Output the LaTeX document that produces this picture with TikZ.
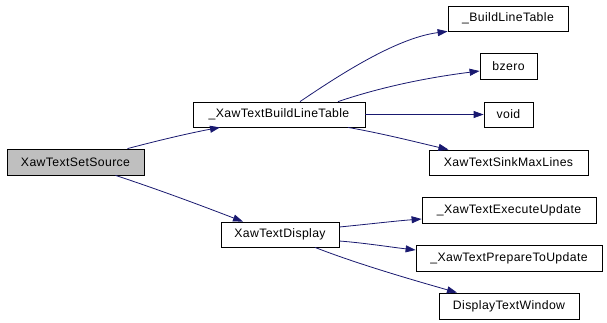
\documentclass[tikz,border=0pt]{standalone}
\usepackage{fontspec}
\setmainfont{Liberation Sans}[LetterSpace=3]
\usetikzlibrary{arrows.meta}
\definecolor{edgeblue}{HTML}{191970}
\definecolor{srcgray}{HTML}{BFBFBF}
\begin{document}
\begin{tikzpicture}[x=1bp,y=-1bp,
  fn/.style={draw=black,line width=0.8bp,fill=white,inner sep=0pt,align=center,
    font=\fontsize{12.3}{14}\selectfont},
  edge/.style={draw=edgeblue,line width=0.8bp,
    -{Triangle[length=10bp,width=7bp]},fill=none}]
\useasboundingbox[fill=white] (0,0) rectangle (607,322);
\node[fn,fill=srcgray,minimum width=137bp,minimum height=26bp] (src) at (75.5,162) {XawTextSetSource};
\node[fn,minimum width=172bp,minimum height=25bp] (blt) at (279,114.5) {\_XawTextBuildLineTable};
\node[fn,minimum width=120bp,minimum height=25bp] (bl) at (508,18.5) {\_BuildLineTable};
\node[fn,minimum width=57bp,minimum height=26bp] (bz) at (508.5,66) {bzero};
\node[fn,minimum width=49bp,minimum height=25bp] (vd) at (508.5,114.5) {void};
\node[fn,minimum width=159bp,minimum height=25bp] (sml) at (508.5,162.5) {XawTextSinkMaxLines};
\node[fn,minimum width=118bp,minimum height=25bp] (disp) at (280,234.5) {XawTextDisplay};
\node[fn,minimum width=174bp,minimum height=26bp] (exe) at (509,210) {\_XawTextExecuteUpdate};
\node[fn,minimum width=186bp,minimum height=26bp] (prep) at (509,258) {\_XawTextPrepareToUpdate};
\node[fn,minimum width=140bp,minimum height=26bp] (dtw) at (509,306) {DisplayTextWindow};

\draw[edge] ([xshift=52bp]src.north) .. controls (160,140) and (190,133) .. ([xshift=-59bp]blt.south);
\draw[edge] ([xshift=40bp]src.south) .. controls (160,190) and (205,207) .. ([xshift=-37bp]disp.north);
\draw[edge] ([xshift=21bp]blt.north) .. controls (335,78) and (395,38) .. (bl.south west);
\draw[edge] ([xshift=59bp]blt.north) .. controls (390,84) and (440,76) .. ([yshift=-5bp]bz.west);
\draw[edge] (blt.east) -- (vd.west);
\draw[edge] ([xshift=69bp]blt.south) .. controls (385,134) and (420,143) .. ([xshift=-60bp]sml.north);
\draw[edge] ([yshift=7.5bp]disp.east) .. controls (370,224) and (395,221) .. ([yshift=-9bp]exe.west);
\draw[edge] ([yshift=-6.5bp]disp.east) .. controls (365,243) and (390,247) .. ([yshift=8bp]prep.west);
\draw[edge] ([xshift=35bp]disp.south) .. controls (360,265) and (420,282) .. ([xshift=-52bp]dtw.north);
\end{tikzpicture}
\end{document}
